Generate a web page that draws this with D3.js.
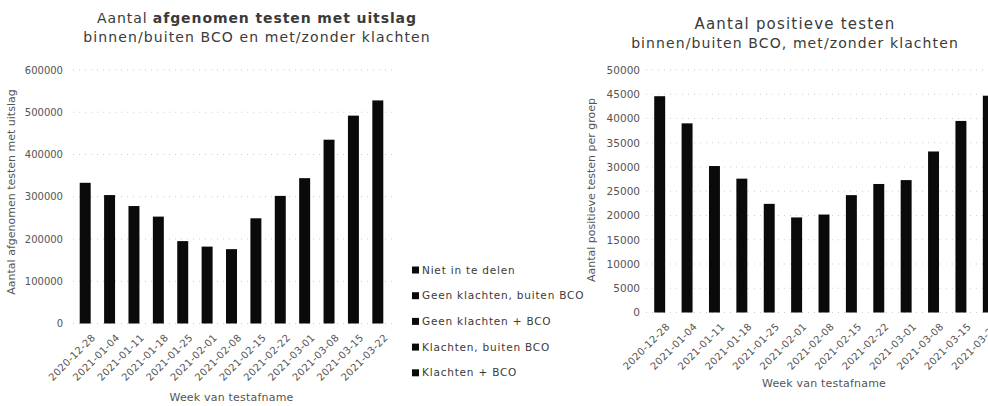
<!DOCTYPE html>
<html>
<head>
<meta charset="utf-8">
<script src="https://cdn.jsdelivr.net/npm/d3@7"></script>
<style>
  html, body { margin: 0; padding: 0; background: #fff; }
  svg { display: block; font-family: "DejaVu Sans", Verdana, sans-serif; }
</style>
</head>
<body>
<svg id="chart" width="988" height="406"></svg>
<script>
// ---- data ----
const weeks = ["2020-12-28","2021-01-04","2021-01-11","2021-01-18","2021-01-25","2021-02-01","2021-02-08","2021-02-15","2021-02-22","2021-03-01","2021-03-08","2021-03-15","2021-03-22"];
const testsTotal = [333000, 304000, 278000, 253000, 195000, 182000, 176000, 249000, 302000, 344000, 435000, 492000, 528000];
const positivesTotal = [44600, 39000, 30200, 27600, 22400, 19600, 20200, 24200, 26500, 27300, 33200, 39500, 44700];
const legendLabels = ["Niet in te delen", "Geen klachten, buiten BCO", "Geen klachten + BCO", "Klachten, buiten BCO", "Klachten + BCO"];
const leftTicks = [0, 100000, 200000, 300000, 400000, 500000, 600000];
const rightTicks = [0, 5000, 10000, 15000, 20000, 25000, 30000, 35000, 40000, 45000, 50000];

const svg = d3.select("#chart");
const textCol = "#3a3a3a";
const tickCol = "#555";

function drawPanel(cfg) {
  const g = svg.append("g");
  const x = d3.scaleBand().domain(weeks).range(cfg.xRange).paddingInner(cfg.padInner).paddingOuter(cfg.padInner / 2);
  const y = d3.scaleLinear().domain([0, cfg.yMax]).range(cfg.yRange);

  // gridlines (faint dotted)
  g.append("g").selectAll("line").data(cfg.ticks).join("line")
    .attr("x1", cfg.xRange[0]).attr("x2", cfg.gridEnd)
    .attr("y1", d => y(d)).attr("y2", d => y(d))
    .attr("stroke", "#cfcfcf").attr("stroke-width", 1)
    .attr("stroke-dasharray", "1,5");

  // y axis
  const ya = g.append("g").attr("transform", `translate(${cfg.xRange[0]},0)`)
    .call(d3.axisLeft(y).tickValues(cfg.ticks).tickSize(0).tickPadding(cfg.tickPad).tickFormat(d3.format("d")));
  ya.select(".domain").remove();
  ya.selectAll("text").attr("fill", tickCol).style("font-size", cfg.tickFont + "px")
    .style("font-family", "'DejaVu Sans', Verdana, sans-serif");

  // bars
  g.append("g").selectAll("rect").data(cfg.values).join("rect")
    .attr("x", (d, i) => x(weeks[i]))
    .attr("width", x.bandwidth())
    .attr("y", d => y(d))
    .attr("height", d => y(0) - y(d))
    .attr("fill", "#0a0a0a");

  // x axis
  const xa = g.append("g").attr("transform", `translate(0,${y(0)})`)
    .call(d3.axisBottom(x).tickSize(0).tickPadding(6));
  xa.select(".domain").remove();
  xa.selectAll("text")
    .attr("fill", tickCol)
    .style("font-size", "10px")
    .style("letter-spacing", "0.3px")
    .style("font-family", "'DejaVu Sans', Verdana, sans-serif")
    .attr("text-anchor", "end")
    .attr("dy", "0.35em")
    .attr("transform", "translate(4,8) rotate(-45)");

  // axis titles
  g.append("text")
    .attr("x", (cfg.xRange[0] + cfg.xRange[1]) / 2).attr("y", cfg.xTitleY)
    .attr("text-anchor", "middle").attr("fill", tickCol).style("font-size", "11px")
    .style("letter-spacing", "0.2px")
    .text("Week van testafname");
  g.append("text")
    .attr("transform", `translate(${cfg.yTitleX},${cfg.yTitleY}) rotate(-90)`)
    .attr("text-anchor", "middle").attr("fill", tickCol).style("font-size", "11px")
    .text(cfg.yTitle);

  // titles
  const t = g.append("text").attr("x", cfg.titleX).attr("y", cfg.titleY)
    .attr("text-anchor", "middle").attr("fill", textCol)
    .style("font-size", cfg.titleFont + "px").style("letter-spacing", cfg.titleLS + "px");
  cfg.titleParts.forEach(p => t.append("tspan").attr("font-weight", p[1] ? "bold" : "normal").text(p[0]));
  g.append("text").attr("x", cfg.titleX).attr("y", cfg.titleY + 19)
    .attr("text-anchor", "middle").attr("fill", textCol)
    .style("font-size", "14px").style("letter-spacing", cfg.subLS + "px")
    .text(cfg.subtitle);
}

drawPanel({
  xRange: [73, 390], gridEnd: 392, padInner: 0.55,
  yMax: 600000, yRange: [323.5, 70], ticks: leftTicks, values: testsTotal,
  tickPad: 10, tickFont: 10,
  xTitleY: 401, yTitleX: 15, yTitleY: 192,
  yTitle: "Aantal afgenomen testen met uitslag",
  titleX: 257, titleY: 23, titleFont: 14, titleLS: 0.9, subLS: 1.1,
  titleParts: [["Aantal ", false], ["afgenomen testen met uitslag", true]],
  subtitle: "binnen/buiten BCO en met/zonder klachten"
});

drawPanel({
  xRange: [646, 1002], gridEnd: 988, padInner: 0.6,
  yMax: 50000, yRange: [312.5, 70], ticks: rightTicks, values: positivesTotal,
  tickPad: 6, tickFont: 10.5,
  xTitleY: 387, yTitleX: 595, yTitleY: 190,
  yTitle: "Aantal positieve testen per groep",
  titleX: 795, titleY: 29, titleFont: 15, titleLS: 1.2, subLS: 1.1,
  titleParts: [["Aantal positieve testen", false]],
  subtitle: "binnen/buiten BCO, met/zonder klachten"
});

// legend
const lg = svg.append("g").attr("transform", "translate(412,270)");
const items = lg.selectAll("g").data(legendLabels).join("g")
  .attr("transform", (d, i) => `translate(0,${i * 25.7})`);
items.append("rect").attr("x", 0).attr("y", -3.5).attr("width", 7).attr("height", 7).attr("fill", "#0a0a0a");
items.append("text").attr("x", 10).attr("y", 0).attr("dy", "0.35em")
  .attr("fill", textCol).style("font-size", "10.5px").style("letter-spacing", "0.8px").text(d => d);
</script>
</body>
</html>
